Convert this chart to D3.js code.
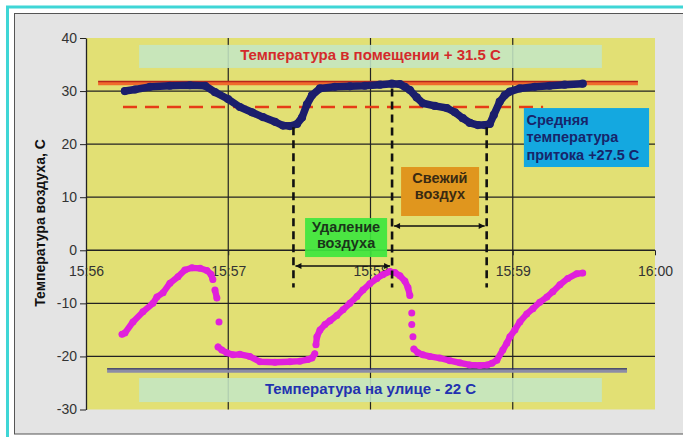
<!DOCTYPE html>
<html>
<head>
<meta charset="utf-8">
<script src="https://cdn.jsdelivr.net/npm/d3@7"></script>
<style>
  body { margin: 0; background: #fff; }
  text { font-family: Arial, "Liberation Sans", sans-serif; }
</style>
</head>
<body>
<div id="chart"></div>
<script>
// seconds after 15:56:00 and temperature
var indoorSec = [16.4, 20.7, 27.0, 35.4, 43.8, 50.2, 54.4, 59.9, 64.9, 70.0, 74.6, 79.7, 83.1, 86.0, 89.0, 91.1,
  93.2, 95.3, 98.7, 105.0, 111.3, 117.6, 124.0, 129.0, 132.4, 134.5, 136.6, 139.5, 142.1, 147.1, 152.2, 155.6,
  158.9, 161.9, 165.3, 168.2, 170.3, 172.0, 174.5, 176.6, 178.8, 183.0, 189.3, 195.6, 201.9, 209.5];
var indoorTemp = [30.0, 30.3, 30.8, 31.0, 31.1, 31.0, 29.8, 28.5, 27.0, 26.0, 25.1, 24.2, 23.5, 23.4, 23.8, 25.0,
  27.5, 29.2, 30.5, 30.8, 30.9, 31.0, 31.2, 31.4, 31.3, 30.8, 30.2, 28.8, 27.7, 27.2, 26.8, 26.0,
  24.9, 24.0, 23.6, 23.6, 23.8, 25.5, 28.0, 29.2, 29.9, 30.5, 30.8, 31.0, 31.2, 31.4];

var supplySec = [15.2, 16.4, 19.8, 24.0, 28.2, 29.9, 32.5, 35.4, 38.8, 41.7, 44.7, 48.1, 51.0, 52.7, 53.5, 54.4,
  55.2, 56.1, 55.7, 57.3, 59.4, 62.0, 64.9, 69.1, 73.4, 79.7, 86.0, 90.2, 93.6, 95.3, 96.5, 97.0,
  97.4, 98.7, 100.8, 102.9, 105.8, 108.4, 111.3, 114.3, 116.8, 119.7, 122.7, 125.2, 128.2, 130.3,
  132.4, 134.5, 135.8, 136.6, 137.4, 137.4, 137.9, 138.3, 140.0, 142.1, 145.0, 149.2, 153.5, 157.7,
  161.9, 166.1, 169.1, 171.2, 173.3, 175.8, 177.5, 178.8, 180.9, 183.0, 185.9, 188.5, 191.4, 194.4,
  196.9, 199.9, 203.2, 207.0, 209.5];
var supplyTemp = [-15.8, -15.6, -13.5, -11.6, -10.0, -8.8, -8.0, -6.2, -5.0, -3.7, -3.3, -3.4, -3.8, -4.5, -5.5, -7.5,
  -9.0, -13.5, -18.2, -18.8, -19.3, -19.7, -19.6, -20.0, -21.0, -21.1, -21.0, -20.9, -20.6, -20.3, -19.5, -17.8,
  -16.3, -15.0, -14.0, -13.3, -12.3, -11.2, -10.0, -8.7, -7.5, -6.3, -5.3, -4.6, -4.0, -4.2,
  -4.8, -5.8, -7.0, -8.5, -11.8, -14.0, -16.3, -18.6, -19.3, -19.7, -20.0, -20.3, -20.8, -21.2,
  -21.6, -21.7, -21.6, -21.3, -20.7, -18.8, -17.5, -16.3, -15.0, -13.5, -12.0, -11.0, -9.8, -8.8,
  -7.8, -6.5, -5.3, -4.4, -4.3];

var xTickLabels = ["15:56", "15:57", "15:58", "15:59", "16:00"];
var yTicks = [-30, -20, -10, 0, 10, 20, 30, 40];

// reference levels: value, start sec, end sec
var indoorLevel = [31.5, 5.1, 232.8];
var supplyAvgLevel = [27.0, 15.6, 192.8];
var outdoorLevel = [-22.6, 8.9, 228.2];

// phase boundaries (sec) and the top of each dashed marker
var eventSec = [87.5, 129.1, 169.0];
var eventTop = [23.2, 30.5, 23.2];
var eventBottom = -7.0;

var titleY = "Температура воздуха, С";
var labelIndoor = "Температура в помещении + 31.5 С";
var labelOutdoor = "Температура на улице - 22 С";
var labelSupply = ["Средняя", "температура", "притока +27.5 С"];
var labelFresh = ["Свежий", "воздух"];
var labelExhaust = ["Удаление", "воздуха"];

var svgWidth = 683;
var svgHeight = 437;
var margin = { top: 38, right: 28, bottom: 27.5, left: 86 };
var width = svgWidth - margin.left - margin.right;
var height = svgHeight - margin.top - margin.bottom;

var svg = d3.select("#chart").append("svg")
  .attr("width", svgWidth)
  .attr("height", svgHeight);

// frame
svg.append("rect").attr("width", svgWidth).attr("height", svgHeight).attr("fill", "#fff");
svg.append("rect").attr("x", 7.5).attr("y", 7).attr("width", 720).attr("height", 500)
  .attr("fill", "none").attr("stroke", "#3fd6d6").attr("stroke-width", 3);
svg.append("rect").attr("x", 14.5).attr("y", 13.5).attr("width", 720).attr("height", 420.5)
  .attr("fill", "#e4e4e4").attr("stroke", "#555").attr("stroke-width", 1);

var chart = svg.append("g")
  .attr("transform", `translate(${margin.left}, ${margin.top})`);

var parseTime = d3.timeParse("%H:%M");
var tickDates = xTickLabels.map(parseTime);
var t0 = tickDates[0];
function toDate(s) { return new Date(t0.getTime() + s * 1000); }

var x = d3.scaleTime().domain([t0, tickDates[tickDates.length - 1]]).range([0, width]);
var y = d3.scaleLinear().domain([d3.min(yTicks), d3.max(yTicks)]).range([height, 0]);

chart.append("rect").attr("width", width).attr("height", height).attr("fill", "#e2e074");

// grid
chart.selectAll(".hgrid").data(yTicks.filter(d => d > -30 && d < 40)).enter()
  .append("line")
  .attr("x1", 0).attr("x2", width)
  .attr("y1", d => y(d)).attr("y2", d => y(d))
  .attr("stroke", "#222").attr("stroke-width", d => d === 0 ? 1.6 : 1.2);

chart.selectAll(".vgrid").data(tickDates.slice(1, -1)).enter()
  .append("line")
  .attr("x1", d => x(d)).attr("x2", d => x(d))
  .attr("y1", 0).attr("y2", height)
  .attr("stroke", "#222").attr("stroke-width", 1.2);

// axes
var yAxis = chart.append("g")
  .call(d3.axisLeft(y).tickValues(yTicks).tickFormat(d => String(d))
    .tickSize(6).tickPadding(3).tickSizeOuter(0));
yAxis.select(".domain").attr("stroke", "#222").attr("stroke-width", 1.3);
yAxis.selectAll("line").attr("stroke", "#222");
yAxis.selectAll("text").attr("font-size", 14).attr("fill", "#333")
  .style("font-family", "Arial, 'Liberation Sans', sans-serif");

var xAxis = chart.append("g")
  .attr("transform", `translate(0, ${y(0)})`)
  .call(d3.axisBottom(x).tickValues(tickDates).tickFormat((d, i) => xTickLabels[i])
    .tickSize(5).tickPadding(10.5).tickSizeOuter(0));
xAxis.select(".domain").attr("stroke", "none");
xAxis.selectAll("line").attr("stroke", "#222");
xAxis.selectAll("text").attr("font-size", 14).attr("fill", "#333")
  .style("font-family", "Arial, 'Liberation Sans', sans-serif");

svg.append("text")
  .attr("transform", `translate(45, ${margin.top + 185}) rotate(-90)`)
  .attr("text-anchor", "middle")
  .attr("font-size", 14).attr("font-weight", "bold").attr("fill", "#111")
  .text(titleY);

function box(s0, s1, v0, v1, fill, op) {
  return chart.append("rect")
    .attr("x", x(toDate(s0))).attr("y", y(v0))
    .attr("width", x(toDate(s1)) - x(toDate(s0)))
    .attr("height", y(v1) - y(v0))
    .attr("fill", fill).attr("fill-opacity", op);
}

// light label bands
box(22.4, 217.6, 38.7, 34.35, "#c4e6c4", 0.88);
box(22.4, 217.6, -24.06, -28.6, "#c4e6c4", 0.88);

chart.append("text")
  .attr("x", x(toDate(120))).attr("y", y(38.7) + 15.5)
  .attr("text-anchor", "middle").attr("font-size", 15).attr("font-weight", "bold")
  .attr("fill", "#d42a2a").text(labelIndoor);
chart.append("text")
  .attr("x", x(toDate(120))).attr("y", y(-24.06) + 16)
  .attr("text-anchor", "middle").attr("font-size", 15).attr("font-weight", "bold")
  .attr("fill", "#2232b0").text(labelOutdoor);

// reference lines
function hline(level, color, w, dash, dy) {
  return chart.append("line")
    .attr("x1", x(toDate(level[1]))).attr("x2", x(toDate(level[2])))
    .attr("y1", y(level[0]) + dy).attr("y2", y(level[0]) + dy)
    .attr("stroke", color).attr("stroke-width", w)
    .attr("stroke-dasharray", dash);
}
hline(indoorLevel, "#f06a2c", 3.2, null, 0.6);
hline(indoorLevel, "#b8241a", 1.3, null, -1.6);
hline(outdoorLevel, "#8c8ca6", 3.2, null, 0.8);
hline(outdoorLevel, "#1c2070", 1.4, null, -1.4);
hline(supplyAvgLevel, "#e63c16", 2.6, "14,8", 0);

// series
var indoor = indoorSec.map((s, i) => ({ t: toDate(s), v: indoorTemp[i] }));
var supply = supplySec.map((s, i) => ({ t: toDate(s), v: supplyTemp[i] }));

var line = d3.line().x(d => x(d.t)).y(d => y(d.v));

// split supply on the near-vertical jumps so the fast drops show as single dots
var segments = [[supply[0]]];
for (var i = 1; i < supply.length; i++) {
  var a = supply[i - 1], b = supply[i];
  var dx = Math.abs(x(b.t) - x(a.t)), dy = Math.abs(y(b.v) - y(a.v));
  if (dx < 4 && dy > 8.5) segments.push([]);
  segments[segments.length - 1].push(b);
}

chart.append("path").datum(indoor)
  .attr("d", line).attr("fill", "none")
  .attr("stroke", "#1b1e6c").attr("stroke-width", 7.5)
  .attr("stroke-linejoin", "round").attr("stroke-linecap", "round");
chart.selectAll(".indoorDot").data(indoor).enter()
  .append("circle")
  .attr("cx", d => x(d.t)).attr("cy", d => y(d.v)).attr("r", 4.1)
  .attr("fill", "#1b1e6c");

chart.selectAll(".supplySeg").data(segments.filter(s => s.length > 1)).enter()
  .append("path")
  .attr("d", line).attr("fill", "none")
  .attr("stroke", "#e020dc").attr("stroke-width", 6.3)
  .attr("stroke-linejoin", "round").attr("stroke-linecap", "round");
chart.selectAll(".supplyDot").data(supply).enter()
  .append("circle")
  .attr("cx", d => x(d.t)).attr("cy", d => y(d.v)).attr("r", 3.5)
  .attr("fill", "#e020dc");

// phase markers
chart.selectAll(".event").data(eventSec).enter()
  .append("line")
  .attr("x1", d => x(toDate(d))).attr("x2", d => x(toDate(d)))
  .attr("y1", (d, i) => y(eventTop[i])).attr("y2", y(eventBottom))
  .attr("stroke", "#111").attr("stroke-width", 2.6)
  .attr("stroke-dasharray", "8,5");

// annotation boxes
box(184.7, 237.5, 26.8, 15.69, "#14a8e0", 1);
box(132.9, 165.8, 15.69, 6.46, "#e0961e", 1);
box(92.4, 127.0, 6.08, -1.27, "#3ee63e", 0.92);

function multiText(lines, sx, v, anchor, color, lh) {
  var t = chart.append("text")
    .attr("text-anchor", anchor).attr("font-size", 14.5).attr("font-weight", "bold")
    .attr("fill", color);
  t.selectAll("tspan").data(lines).enter().append("tspan")
    .attr("x", x(toDate(sx)))
    .attr("y", (d, i) => y(v) + i * lh)
    .text(d => d);
}
multiText(labelSupply, 185.8, 23.7, "start", "#17256a", 17.8);
multiText(labelFresh, 149.3, 12.69, "middle", "#3a2a12", 16.3);
multiText(labelExhaust, 109.7, 3.5, "middle", "#1a351a", 16.5);

// arrows
var defs = svg.append("defs");
defs.append("marker")
  .attr("id", "arrow").attr("viewBox", "0 0 10 10")
  .attr("refX", 10).attr("refY", 5)
  .attr("markerWidth", 9).attr("markerHeight", 6)
  .attr("markerUnits", "userSpaceOnUse")
  .attr("orient", "auto-start-reverse")
  .append("path").attr("d", "M0,0 L10,5 L0,10 z").attr("fill", "#111");

var arrows = [[eventSec[0], eventSec[1], -2.96], [eventSec[1], eventSec[2], 4.58]];
chart.selectAll(".arrow").data(arrows).enter()
  .append("line")
  .attr("x1", d => x(toDate(d[0])) + 2).attr("x2", d => x(toDate(d[1])) - 2)
  .attr("y1", d => y(d[2])).attr("y2", d => y(d[2]))
  .attr("stroke", "#111").attr("stroke-width", 1.5)
  .attr("marker-start", "url(#arrow)").attr("marker-end", "url(#arrow)");
</script>
</body>
</html>
